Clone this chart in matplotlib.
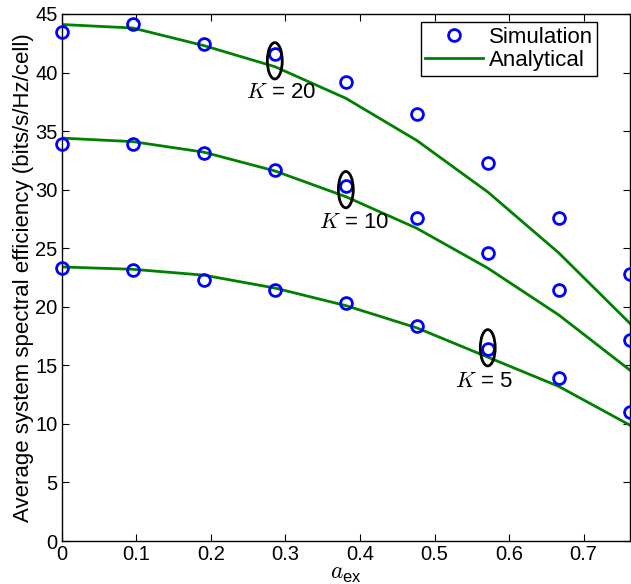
import matplotlib
matplotlib.use("Agg")
import matplotlib.pyplot as plt
from matplotlib.patches import Ellipse

plt.rcParams['font.family'] = ['Liberation Sans', 'DejaVu Sans']
plt.rcParams['mathtext.fontset'] = 'custom'
plt.rcParams['mathtext.rm'] = 'Liberation Sans'
plt.rcParams['mathtext.sf'] = 'Liberation Sans'
plt.rcParams['mathtext.it'] = 'cmmi10'

a_ex = [0.0, 0.0952, 0.1905, 0.2857, 0.381, 0.4762, 0.5714, 0.6667, 0.7619]

sim_k20 = [43.5, 44.1, 42.4, 41.6, 39.2, 36.5, 32.3, 27.6, 22.8]
ana_k20 = [44.1, 43.8, 42.3, 40.5, 37.8, 34.2, 29.8, 24.6, 18.6]
sim_k10 = [33.9, 33.9, 33.1, 31.7, 30.3, 27.6, 24.6, 21.4, 17.2]
ana_k10 = [34.4, 34.1, 33.2, 31.6, 29.4, 26.7, 23.3, 19.3, 14.6]
sim_k5 = [23.3, 23.1, 22.3, 21.4, 20.3, 18.4, 16.4, 13.9, 11.0]
ana_k5 = [23.4, 23.2, 22.7, 21.6, 20.1, 18.2, 15.7, 13.2, 9.9]

annot_labels = ['20', '10', '5']
annot_ellipse_x = [0.2857, 0.381, 0.5714]
annot_ellipse_y = [41.0, 30.0, 16.5]
annot_text_x = [0.294, 0.392, 0.566]
annot_text_y = [38.3, 27.2, 13.6]

fig = plt.figure(figsize=(6.31, 5.84), dpi=100)
ax = fig.add_axes([0.098, 0.0736, 0.9, 0.9025])

green = (0.0, 0.5, 0.0)
blue = (0.0, 0.0, 1.0)

sims = [sim_k20, sim_k10, sim_k5]
anas = [ana_k20, ana_k10, ana_k5]
for i, (s, a) in enumerate(zip(sims, anas)):
    ax.plot(a_ex, a, color=green, lw=2.0, label='Analytical' if i == 0 else None, zorder=2)
    ax.plot(a_ex, s, linestyle='none', marker='o', markersize=8.5, markerfacecolor='none',
            markeredgecolor=blue, markeredgewidth=2.0, label='Simulation' if i == 0 else None,
            zorder=3, clip_on=False)

for ex, ey, tx, ty, lab in zip(annot_ellipse_x, annot_ellipse_y, annot_text_x, annot_text_y, annot_labels):
    ax.add_patch(Ellipse((ex, ey), width=0.02, height=3.1, fill=False, edgecolor='black', lw=2.0, zorder=4))
    ax.text(tx, ty, r'$K$' + ' = ' + lab, ha='center', va='center', fontsize=16, color='black')

ax.set_xlim(0, 0.7619)
ax.set_ylim(0, 45)
ax.set_xticks([0, 0.1, 0.2, 0.3, 0.4, 0.5, 0.6, 0.7])
ax.set_xticklabels(['0', '0.1', '0.2', '0.3', '0.4', '0.5', '0.6', '0.7'])
ax.set_yticks(range(0, 46, 5))
ax.tick_params(direction='in', top=True, right=True, labelsize=14.5, length=5, width=0.8, pad=3)
for sp in ax.spines.values():
    sp.set_linewidth(1.0)

ax.set_ylabel('Average system spectral efficiency (bits/s/Hz/cell)', fontsize=16, labelpad=1)
ax.set_xlabel(r'$a_{\mathrm{ex}}$', fontsize=17, labelpad=-1)

handles, labels = ax.get_legend_handles_labels()
order = [labels.index('Simulation'), labels.index('Analytical')]
leg = ax.legend([handles[k] for k in order], [labels[k] for k in order],
                loc='upper right', bbox_to_anchor=(0.943, 0.984), fontsize=16,
                fancybox=False, edgecolor='black', framealpha=1, borderpad=0.2,
                handlelength=2.6, handletextpad=0.25, labelspacing=0.1, borderaxespad=0)
leg.get_frame().set_linewidth(1.0)

fig.savefig('out.png', dpi=100)
